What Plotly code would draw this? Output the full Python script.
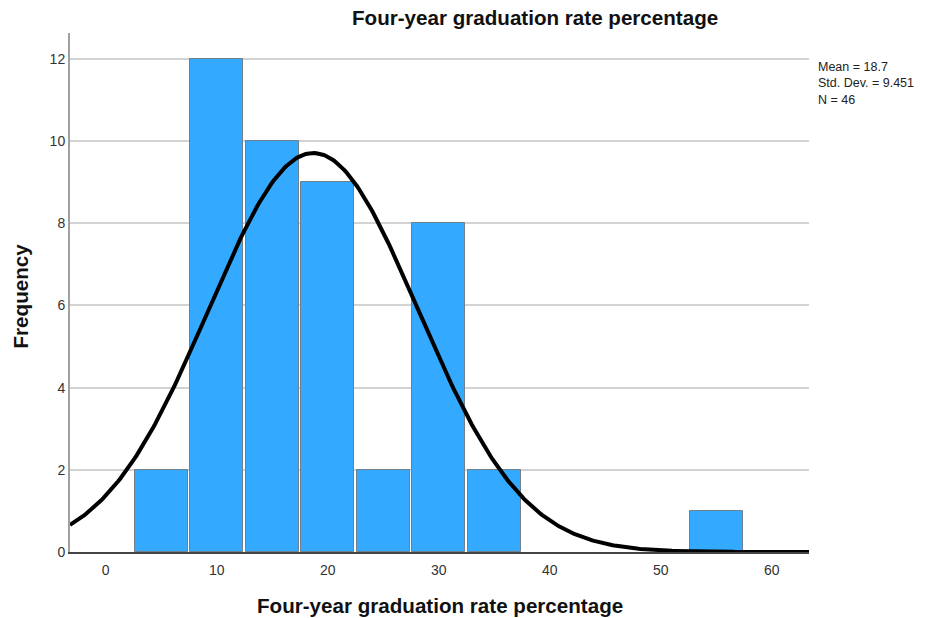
import numpy as np
import plotly.graph_objects as go

# Histogram bins (width 5, centred on multiples of 5)
bin_centers = [5, 10, 15, 20, 25, 30, 35, 40, 45, 50, 55]
counts = [2, 12, 10, 9, 2, 8, 2, 0, 0, 0, 1]
bin_width = 5

# Summary statistics shown beside the chart
mean = 18.7
std_dev = 9.451
n_obs = 46

y_ticks = [0, 2, 4, 6, 8, 10, 12]
x_ticks = [0, 10, 20, 30, 40, 50, 60]

x_range = [-3.22, 63.35]
y_range = [0, 12.63]

title_text = "Four-year graduation rate percentage"

# Empty bins are not drawn
bar_x = [c for c, n in zip(bin_centers, counts) if n > 0]
bar_y = [n for n in counts if n > 0]

# Fitted normal curve scaled to histogram counts
xs = np.linspace(x_range[0], x_range[1], 400)
curve = n_obs * bin_width / (std_dev * np.sqrt(2 * np.pi)) * np.exp(-0.5 * ((xs - mean) / std_dev) ** 2)

fig = go.Figure()
fig.add_trace(go.Bar(
    x=bar_x, y=bar_y, width=4.78,
    marker=dict(color="#33aaff", line=dict(color="#6f7f8c", width=1)),
    hoverinfo="x+y", showlegend=False,
))
fig.add_trace(go.Scatter(
    x=xs, y=curve, mode="lines",
    line=dict(color="black", width=4), showlegend=False, hoverinfo="skip",
))

title_font = dict(family="Liberation Sans, Arial, sans-serif", size=20.6, color="#111111")

fig.update_layout(
    width=925, height=618,
    margin=dict(l=70, r=116, t=33, b=66),
    paper_bgcolor="white", plot_bgcolor="white",
    font=dict(family="Liberation Sans, Arial, sans-serif", color="#333333"),
    bargap=0,
    annotations=[
        dict(text=f"<b>{title_text}</b>", xref="paper", yref="paper",
             x=0.629, y=1, yshift=16, xanchor="center", yanchor="middle", showarrow=False,
             font=title_font),
        dict(text=f"<b>{title_text}</b>", xref="paper", yref="paper",
             x=0.5, y=0, yshift=-53, xanchor="center", yanchor="middle", showarrow=False,
             font=title_font),
        dict(text="<b>Frequency</b>", xref="paper", yref="paper", textangle=-90,
             x=0, xshift=-50, y=0.5, yshift=-4, xanchor="center", yanchor="middle", showarrow=False,
             font=title_font),
        dict(text=f"Mean = {mean}<br>Std. Dev. = {std_dev}<br>N = {n_obs}",
             xref="paper", yref="paper", x=1, xshift=7, y=1, yshift=-25,
             xanchor="left", yanchor="top", align="left", showarrow=False,
             font=dict(size=12.5, color="#222222")),
    ],
)
fig.update_xaxes(
    range=x_range, tickvals=x_ticks, ticks="", showgrid=False, zeroline=False,
    showline=True, linecolor="#444444", linewidth=1.5, ticklabelstandoff=4,
    tickfont=dict(size=14, color="#333333"),
)
fig.update_yaxes(
    range=y_range, tickvals=y_ticks, ticks="", showgrid=True, gridcolor="#d2d2d2", gridwidth=1.5,
    zeroline=False, showline=True, linecolor="#a0a0a0", linewidth=2,
    tickfont=dict(size=14, color="#333333"),
)

fig.write_html("out.html")
